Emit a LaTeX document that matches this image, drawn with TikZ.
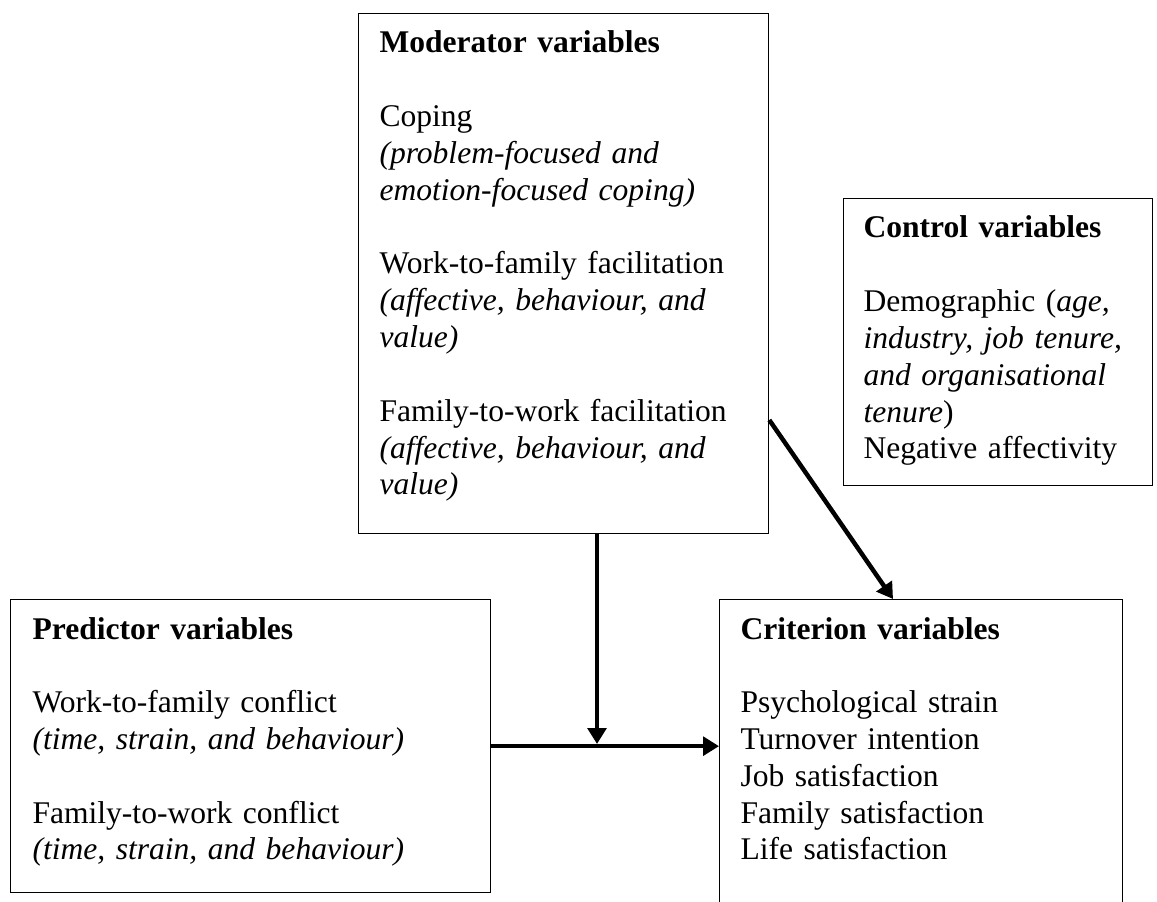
\documentclass[tikz,border=0pt]{standalone}
\usepackage{fontspec}
\setmainfont{Liberation Serif}
\usetikzlibrary{arrows.meta,positioning,calc}

\newlength\px
\setlength\px{0.3802pt}

\begin{document}
\begin{tikzpicture}[x=\px, y=-\px,
  box/.style={draw, line width=0.5pt, anchor=north west, inner sep=0pt},
  txt/.style={anchor=base west, inner sep=0pt, text width=#1, align=left,
    font=\fontsize{12}{14}\selectfont},
  flow/.style={line width=1.7pt, -{Triangle[length=6pt,width=7pt]}}]

\useasboundingbox (0,0) rectangle (1157,902);

% boxes
\node[box, minimum width=410\px, minimum height=520\px] (mod) at (358,13) {};
\node[box, minimum width=309\px, minimum height=287\px] (ctrl) at (843,198) {};
\node[box, minimum width=480\px, minimum height=293\px] (pred) at (10,599) {};
\node[box, minimum width=403\px, minimum height=330\px] (crit) at (719,599) {};

% texts
\node[txt=380\px] (modtext) at ($(mod.north west)+(21,40)$) {
\textbf{Moderator variables}\\[14pt]
Coping\\
\textit{(problem-focused and}\\
\textit{emotion-focused coping)}\\[14pt]
Work-to-family facilitation\\
\textit{(affective, behaviour, and}\\
\textit{value)}\\[14pt]
Family-to-work facilitation\\
\textit{(affective, behaviour, and}\\
\textit{value)}
};

\node[txt=285\px] (ctrltext) at ($(ctrl.north west)+(20,40)$) {
\textbf{Control variables}\\[14pt]
Demographic (\textit{age,}\\
\textit{industry, job tenure,}\\
\textit{and organisational}\\
\textit{tenure})\\
Negative affectivity
};

\node[txt=450\px] (predtext) at ($(pred.north west)+(22,40)$) {
\textbf{Predictor variables}\\[14pt]
Work-to-family conflict\\
\textit{(time, strain, and behaviour)}\\[14pt]
Family-to-work conflict\\
\textit{(time, strain, and behaviour)}
};

\node[txt=380\px] (crittext) at ($(crit.north west)+(21,40)$) {
\textbf{Criterion variables}\\[14pt]
Psychological strain\\
Turnover intention\\
Job satisfaction\\
Family satisfaction\\
Life satisfaction
};

% arrows
\coordinate (join) at (597,746);
\draw[flow] (pred.east) -- (pred.east -| crit.west);
\draw[flow] (mod.south -| join) -- ([yshift=2\px]join);
\draw[flow] (mod.east |- 0,420) -- ($(crit.north west)+(174,0)$);

\end{tikzpicture}
\end{document}
